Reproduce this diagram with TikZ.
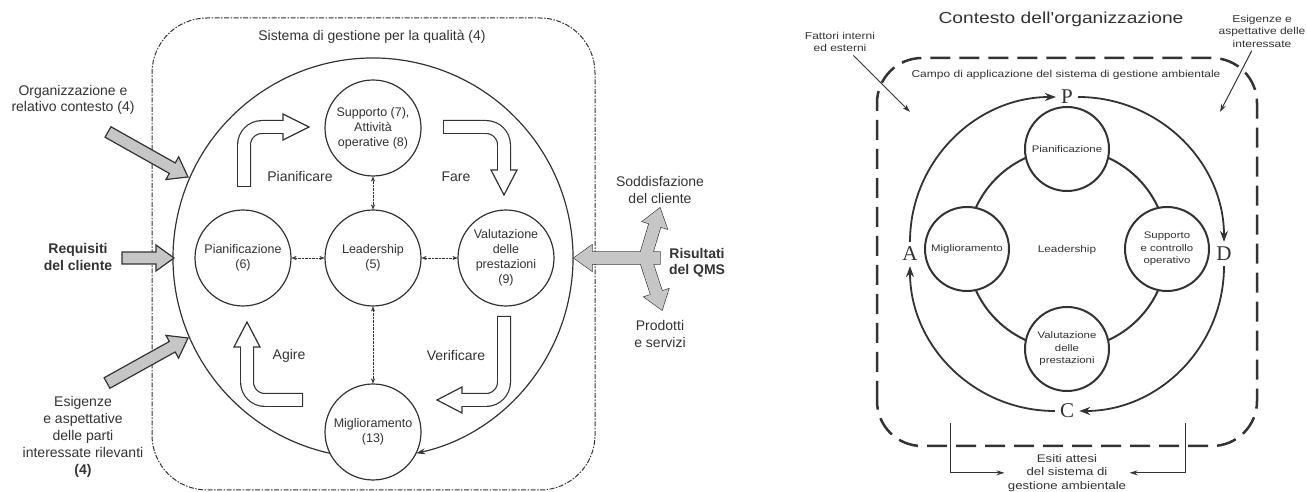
\documentclass[tikz,border=0pt]{standalone}
\usepackage{fontspec}
\setmainfont{Liberation Sans}
\newfontfamily\widesans[FakeStretch=1.2]{Liberation Sans}
\newfontfamily\pdcafont{Liberation Serif}
\usetikzlibrary{arrows.meta,positioning,calc}
\definecolor{ink}{HTML}{333333}
\definecolor{inputgray}{HTML}{C6C6C6}

% gray block arrow from #2 (tail) to #3 (tip)
\newcommand{\blockarrow}[3][]{%
  \path (#2) coordinate (ba-tail) (#3) coordinate (ba-tip);
  \path ($(ba-tip)!18pt!(ba-tail)$) coordinate (ba-base);
  \filldraw[blockarr,#1] ($(ba-tail)!6pt!90:(ba-tip)$) -- ($(ba-base)!6pt!-90:(ba-tail)$)
    -- ($(ba-base)!13pt!-90:(ba-tail)$) -- (ba-tip) -- ($(ba-base)!13pt!90:(ba-tail)$)
    -- ($(ba-base)!6pt!90:(ba-tail)$) -- ($(ba-tail)!6pt!-90:(ba-tip)$) -- cycle;}

\begin{document}
\begin{tikzpicture}[x=1pt, y=1pt,
  every node/.style={text=ink},
  clause/.style={circle, draw=ink, line width=1.2pt, fill=white, minimum size=96pt,
                 inner sep=0pt, align=center, font=\fontsize{12.5}{15}\selectfont},
  side/.style={align=center, font=\fontsize{14}{16.5}\selectfont},
  sidebold/.style={align=center, font=\fontsize{14}{16.5}\selectfont\bfseries},
  link/.style={densely dotted, thin, draw=ink,
               {Stealth[length=5pt,width=4pt]}-{Stealth[length=5pt,width=4pt]}},
  ringarrow/.style={draw=ink, line width=1.2pt, -{Stealth[length=9pt,width=6pt]}},
  blockarr/.style={fill=inputgray, draw=ink, line width=1.2pt, line join=miter},
  hollowout/.style={draw=ink, line width=14pt, line cap=rect, rounded corners=18pt},
  hollowin/.style={draw=white, line width=11.6pt, line cap=rect, rounded corners=18pt},
  hollowhead/.style={fill=white, draw=ink, line width=1.2pt, line join=miter},
  stage/.style={circle, draw=ink, line width=2pt, fill=white, minimum size=84pt,
                inner sep=0pt, align=center, font=\widesans\fontsize{9.5}{12.5}\selectfont},
  pdca/.style={font=\pdcafont\fontsize{21}{21}\selectfont, inner sep=5pt},
  cyc/.style={draw=ink, line width=1.8pt, -{Stealth[length=11pt,width=8pt]}},
  pointer/.style={draw=ink, line width=1pt, -{Stealth[length=8pt,width=5pt]}},
  wide/.style={align=center, font=\widesans\fontsize{10}{12.5}\selectfont}
]
  \useasboundingbox (0,0) rectangle (1307,492);

  % left: quality management system
  \draw[ink, line width=1pt, dash pattern=on 5pt off 1.5pt on 1.5pt off 1.5pt,
        rounded corners=55pt] (152,2) rectangle (595,474);
  \node[side] (qms) at (372,455) {Sistema di gestione per la qualità (4)};

  \coordinate (hub) at (373,234);
  \draw[ringarrow] ($(hub)+(257.5:200)$) arc[start angle=257.5, end angle=-77.5, radius=200];

  \node[clause] (sup) at (373,364) {Supporto (7),\\Attività\\operative (8)};
  \node[clause] (lead) at (373,234) {Leadership\\(5)};
  \node[clause] (pian) at (243,234) {Pianificazione\\(6)};
  \node[clause] (val) at (506,234) {Valutazione\\delle\\prestazioni\\(9)};
  \node[clause] (mig) at (373,60) {Miglioramento\\(13)};

  \draw[link] (pian) -- (lead);
  \draw[link] (lead) -- (val);
  \draw[link] (lead) -- (sup);
  \draw[link] (lead) -- (mig);

  % hollow PDCA arrows
  \draw[hollowout] (244,312) -- (244,365) -- (283,365);
  \filldraw[hollowhead] (283,378) -- (309,365) -- (283,352) -- cycle;
  \draw[hollowin] (244,312) -- (244,365) -- (283,365);

  \draw[hollowout] (450,365) -- (504,365) -- (504,322);
  \filldraw[hollowhead] (491,322) -- (504,297) -- (517,322) -- cycle;
  \draw[hollowin] (450,365) -- (504,365) -- (504,322);

  \draw[hollowout] (504,169) -- (504,92) -- (462,92);
  \filldraw[hollowhead] (462,105) -- (437,92) -- (462,79) -- cycle;
  \draw[hollowin] (504,169) -- (504,92) -- (462,92);

  \draw[hollowout] (296,92) -- (247,92) -- (247,145);
  \filldraw[hollowhead] (234,145) -- (247,170) -- (260,145) -- cycle;
  \draw[hollowin] (296,92) -- (247,92) -- (247,145);

  \node[side] (plan-lbl) at (300,315) {Pianificare};
  \node[side] (do-lbl) at (456,315) {Fare};
  \node[side] (check-lbl) at (456,136) {Verificare};
  \node[side] (act-lbl) at (289,136) {Agire};

  % inputs
  \node[side] (org) at (73,392) {Organizzazione e\\relativo contesto (4)};
  \node[sidebold] (req) at (78,235) {Requisiti\\del cliente};
  \node[side, font=\fontsize{14}{17}\selectfont] (stake) at (83,55)
    {Esigenze\\e aspettative\\delle parti\\interessate rilevanti\\\textbf{(4)}};

  \coordinate (org-tail) at (108,360);
  \coordinate (org-tip) at (188,315);
  \coordinate (req-tail) at (122,234);
  \coordinate (req-tip) at (174,234);
  \coordinate (stake-tail) at (107,109);
  \coordinate (stake-tip) at (188,154);
  \blockarrow{org-tail}{org-tip}
  \blockarrow{req-tail}{req-tip}
  \blockarrow{stake-tail}{stake-tip}

  % outputs
  \node[sidebold] (res) at (697,229) {Risultati\\del QMS};
  \node[side] (sat) at (660,302) {Soddisfazione\\del cliente};
  \node[side] (prod) at (660,158) {Prodotti\\e servizi};

  \coordinate (res-hub) at (645,234);
  \coordinate (res-back) at (660,234);
  \coordinate (res-in) at (574,234);
  \coordinate (sat-tip) at (660,284);
  \coordinate (prod-tip) at (662,182);
  \blockarrow{res-back}{res-in}
  \blockarrow{res-hub}{sat-tip}
  \blockarrow{res-hub}{prod-tip}
  \blockarrow[draw=none]{res-back}{res-in}
  \blockarrow[draw=none]{res-hub}{sat-tip}
  \blockarrow[draw=none]{res-hub}{prod-tip}

  % right: environmental management system
  \draw[ink, line width=2.5pt, dash pattern=on 20pt off 9pt, rounded corners=45pt]
    (877,46) rectangle (1257,434);
  \node[wide, font=\widesans\fontsize{16}{18}\selectfont] (ctx) at (1061,473)
    {Contesto dell'organizzazione};
  \node[wide] (fatt) at (840,450) {Fattori interni\\ed esterni};
  \node[wide] (esig) at (1262,461) {Esigenze e\\aspettative delle\\interessate};
  \node[wide] (campo) at (1066,417)
    {Campo di applicazione del sistema di gestione ambientale};

  \coordinate (env) at (1067,243);
  \draw[ink, line width=2pt] (env) circle[radius=100];
  \node[stage] (pian2) at (1067,343) {Pianificazione};
  \node[stage] (sup2) at (1167,243) {Supporto\\e controllo\\operativo};
  \node[stage] (val2) at (1067,143) {Valutazione\\delle\\prestazioni};
  \node[stage] (mig2) at (967,243) {Miglioramento};
  \node[wide, font=\widesans\fontsize{9.8}{12}\selectfont] (lead2) at (1067,242) {Leadership};

  \node[pdca] (P) at (1067,395) {P};
  \node[pdca] (D) at (1224,238) {D};
  \node[pdca] (C) at (1067,81) {C};
  \node[pdca] (A) at (910,238) {A};
  \draw[cyc] (P) to[out=0, in=90] (D);
  \draw[cyc] (D) to[out=-90, in=0] (C);
  \draw[cyc] (C) to[out=180, in=-90] (A);
  \draw[cyc] (A) to[out=90, in=180] (P);

  \coordinate (fatt-tip) at (910,380);
  \coordinate (esig-tip) at (1220,380);
  \draw[pointer] (fatt) -- (fatt-tip);
  \draw[pointer] (esig) -- (esig-tip);

  \node[wide, font=\widesans\fontsize{11}{13.5}\selectfont, anchor=south] (esiti) at (1067,-3)
    {Esiti attesi\\del sistema di\\gestione ambientale};
  \coordinate (out-l) at (950,69);
  \coordinate (out-r) at (1185,69);
  \draw[pointer] (out-l) |- (esiti);
  \draw[pointer] (out-r) |- (esiti);
\end{tikzpicture}
\end{document}
